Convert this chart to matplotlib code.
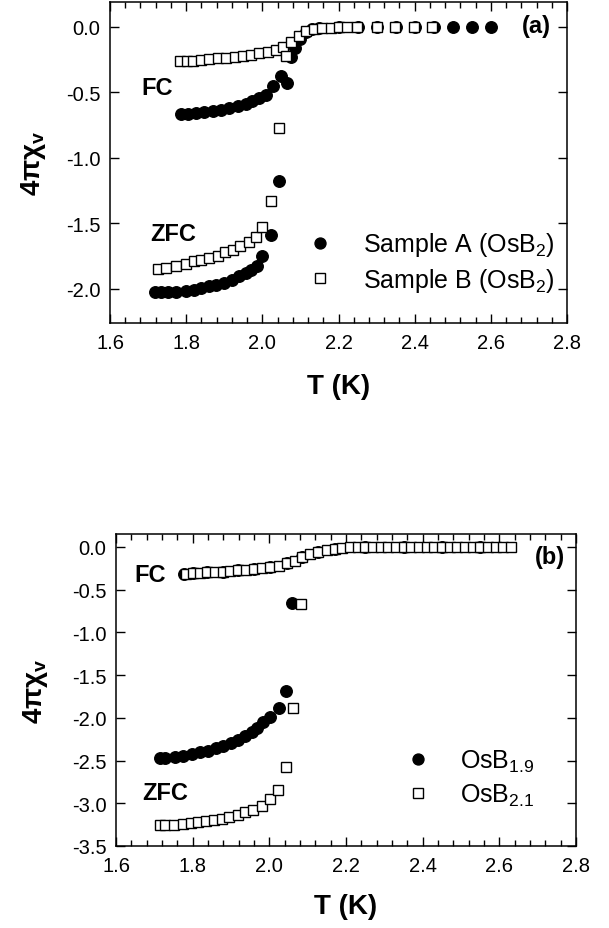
import matplotlib
matplotlib.use("Agg")
from matplotlib import pyplot as plt
from matplotlib.ticker import MultipleLocator

plt.rcParams['font.family'] = ['Liberation Sans', 'DejaVu Sans']

# ---- panel (a): OsB2, two samples ----
a_zfc_T = [1.718, 1.735, 1.752, 1.774, 1.799, 1.820, 1.840, 1.859, 1.879, 1.900,
           1.920, 1.939, 1.957, 1.970, 1.985, 2.000, 2.022, 2.044]
a_zfc_chi = [-2.026, -2.026, -2.026, -2.020, -2.013, -2.005, -1.995, -1.979, -1.969, -1.954,
             -1.931, -1.903, -1.878, -1.853, -1.822, -1.750, -1.588, -1.180]
a_fc_T = [1.787, 1.805, 1.826, 1.848, 1.870, 1.892, 1.913, 1.935, 1.957, 1.974, 1.992,
          2.009, 2.027, 2.049, 2.066, 2.076, 2.086, 2.100, 2.115, 2.13, 2.15, 2.20,
          2.25, 2.30, 2.35, 2.40, 2.45, 2.50, 2.55, 2.60]
a_fc_chi = [-0.664, -0.664, -0.659, -0.651, -0.644, -0.634, -0.621, -0.605, -0.588, -0.567, -0.545,
            -0.516, -0.453, -0.377, -0.427, -0.230, -0.160, -0.090, -0.040, -0.015, -0.005, 0.0,
            0.0, 0.0, 0.0, 0.0, 0.0, 0.0, 0.0, 0.0]

b_zfc_T = [1.726, 1.748, 1.774, 1.799, 1.820, 1.840, 1.861, 1.883, 1.903, 1.922,
           1.942, 1.964, 1.983, 2.000, 2.022, 2.044]
b_zfc_chi = [-1.847, -1.842, -1.827, -1.809, -1.789, -1.776, -1.763, -1.746, -1.720, -1.700,
             -1.674, -1.644, -1.605, -1.529, -1.330, -0.774]
b_fc_T = [1.783, 1.801, 1.818, 1.840, 1.861, 1.883, 1.905, 1.927, 1.948, 1.970, 1.992,
          2.014, 2.035, 2.053, 2.062, 2.075, 2.095, 2.114, 2.136, 2.157, 2.179, 2.201,
          2.223, 2.249, 2.301, 2.349, 2.397, 2.445]
b_fc_chi = [-0.262, -0.260, -0.257, -0.249, -0.244, -0.239, -0.234, -0.227, -0.219, -0.211, -0.201,
            -0.188, -0.173, -0.155, -0.220, -0.117, -0.070, -0.030, -0.015, -0.008, -0.005, 0.0,
            0.0, 0.0, 0.0, 0.0, 0.0, 0.0]

# ---- panel (b): OsB1.9 and OsB2.1 ----
c_zfc_T = [1.715, 1.728, 1.754, 1.776, 1.797, 1.819, 1.841, 1.861, 1.880, 1.899,
           1.919, 1.937, 1.954, 1.967, 1.984, 2.002, 2.024, 2.043, 2.060]
c_zfc_chi = [-2.474, -2.474, -2.463, -2.444, -2.424, -2.404, -2.385, -2.357, -2.327, -2.295,
             -2.256, -2.217, -2.170, -2.123, -2.053, -1.995, -1.889, -1.682, -0.656]
c_fc_T = [1.777, 1.801, 1.838, 1.878, 1.917, 1.960, 2.002, 2.047, 2.084, 2.128,
          2.17, 2.25, 2.35, 2.45, 2.55]
c_fc_chi = [-0.316, -0.304, -0.297, -0.289, -0.277, -0.258, -0.234, -0.195, -0.121, -0.055,
            -0.02, 0.0, 0.0, 0.0, 0.0]

d_zfc_T = [1.715, 1.728, 1.751, 1.774, 1.795, 1.815, 1.835, 1.856, 1.876, 1.896,
           1.917, 1.937, 1.958, 1.980, 2.002, 2.022, 2.043, 2.061, 2.083]
d_zfc_chi = [-3.255, -3.255, -3.255, -3.244, -3.232, -3.224, -3.212, -3.197, -3.185, -3.165,
             -3.138, -3.107, -3.076, -3.029, -2.951, -2.842, -2.572, -1.889, -0.667]
d_fc_T = [1.783, 1.801, 1.819, 1.838, 1.858, 1.878, 1.897, 1.917, 1.939, 1.960, 1.980,
          2.002, 2.025, 2.047, 2.067, 2.084, 2.106, 2.128, 2.150, 2.17, 2.19, 2.21, 2.23,
          2.25, 2.27, 2.29, 2.31, 2.33, 2.35, 2.37, 2.39, 2.41, 2.43, 2.45, 2.47, 2.49,
          2.51, 2.53, 2.55, 2.57, 2.59, 2.61, 2.63]
d_fc_chi = [-0.316, -0.310, -0.304, -0.297, -0.293, -0.289, -0.285, -0.277, -0.269, -0.258, -0.246,
            -0.234, -0.219, -0.195, -0.168, -0.121, -0.082, -0.055, -0.035, -0.02, -0.01, 0.0, 0.0,
            0.0, 0.0, 0.0, 0.0, 0.0, 0.0, 0.0, 0.0, 0.0, 0.0, 0.0, 0.0, 0.0,
            0.0, 0.0, 0.0, 0.0, 0.0, 0.0, 0.0]

labels_a = ["Sample A (OsB$_\\mathregular{2}$)", "Sample B (OsB$_\\mathregular{2}$)"]
labels_b = ["OsB$_\\mathregular{1.9}$", "OsB$_\\mathregular{2.1}$"]

circ = dict(ls="none", marker="o", ms=8.3, mfc="black", mec="black")
sq = dict(ls="none", marker="s", ms=7.3, mfc="white", mec="black", mew=1.0)

fig = plt.figure(figsize=(6.09, 9.29), dpi=100)
ax1 = fig.add_axes([110 / 609, 1 - 324 / 929, 457 / 609, 321 / 929])
ax2 = fig.add_axes([116 / 609, 1 - 847 / 929, 460 / 609, 312 / 929])


def style(ax, ylim):
    ax.set_xlim(1.6, 2.8)
    ax.set_ylim(*ylim)
    ax.xaxis.set_major_locator(MultipleLocator(0.2))
    ax.xaxis.set_minor_locator(MultipleLocator(0.04))
    ax.yaxis.set_major_locator(MultipleLocator(0.5))
    ax.tick_params(which="both", direction="in", top=True, right=True, width=1.0,
                   labelsize=14.5, pad=7)
    ax.tick_params(which="major", length=6.5)
    ax.tick_params(which="minor", length=4)
    ax.xaxis.set_major_formatter(plt.FormatStrFormatter("%.1f"))
    ax.yaxis.set_major_formatter(plt.FormatStrFormatter("%.1f"))
    for s in ax.spines.values():
        s.set_linewidth(1.1)
    ax.set_xlabel("T (K)", fontsize=20, fontweight="bold")
    ax.set_ylabel("4πχ$_\\mathregular{v}$", fontsize=20, fontweight="bold")


# panel (a)
ax1.plot(a_zfc_T, a_zfc_chi, **circ)
h1, = ax1.plot(a_fc_T, a_fc_chi, **circ)
ax1.plot(b_zfc_T, b_zfc_chi, **sq)
h2, = ax1.plot(b_fc_T, b_fc_chi, **sq)
style(ax1, (-2.26, 0.19))
ax1.xaxis.set_label_coords(0.5, -0.155)
ax1.yaxis.set_label_coords(-0.135, 0.5)
ax1.text(0.069, 0.734, "FC", transform=ax1.transAxes, fontsize=17, fontweight="bold",
         ha="left", va="center")
ax1.text(0.089, 0.279, "ZFC", transform=ax1.transAxes, fontsize=17, fontweight="bold",
         ha="left", va="center")
ax1.text(0.964, 0.927, "(a)", transform=ax1.transAxes, fontsize=17, fontweight="bold",
         ha="right", va="center")
ax1.legend([h1, h2], labels_a, loc="center left", bbox_to_anchor=(0.383, 0.19),
           frameon=False, fontsize=18, handlelength=2.0, handletextpad=0.7,
           labelspacing=0.3, borderpad=0.4, borderaxespad=0, markerscale=0.95)

# panel (b)
ax2.plot(c_zfc_T, c_zfc_chi, **circ)
h3, = ax2.plot(c_fc_T, c_fc_chi, **circ)
ax2.plot(d_zfc_T, d_zfc_chi, **sq)
h4, = ax2.plot(d_fc_T, d_fc_chi, **sq)
style(ax2, (-3.5, 0.15))
ax2.xaxis.set_label_coords(0.5, -0.152)
ax2.yaxis.set_label_coords(-0.143, 0.5)
ax2.text(0.041, 0.871, "FC", transform=ax2.transAxes, fontsize=17, fontweight="bold",
         ha="left", va="center")
ax2.text(0.056, 0.172, "ZFC", transform=ax2.transAxes, fontsize=17, fontweight="bold",
         ha="left", va="center")
ax2.text(0.975, 0.928, "(b)", transform=ax2.transAxes, fontsize=17, fontweight="bold",
         ha="right", va="center")
ax2.legend([h3, h4], labels_b, loc="center left", bbox_to_anchor=(0.580, 0.218),
           frameon=False, fontsize=18, handlelength=2.0, handletextpad=0.7,
           labelspacing=0.3, borderpad=0.4, borderaxespad=0, markerscale=0.95)

fig.savefig("out.png", dpi=100)
